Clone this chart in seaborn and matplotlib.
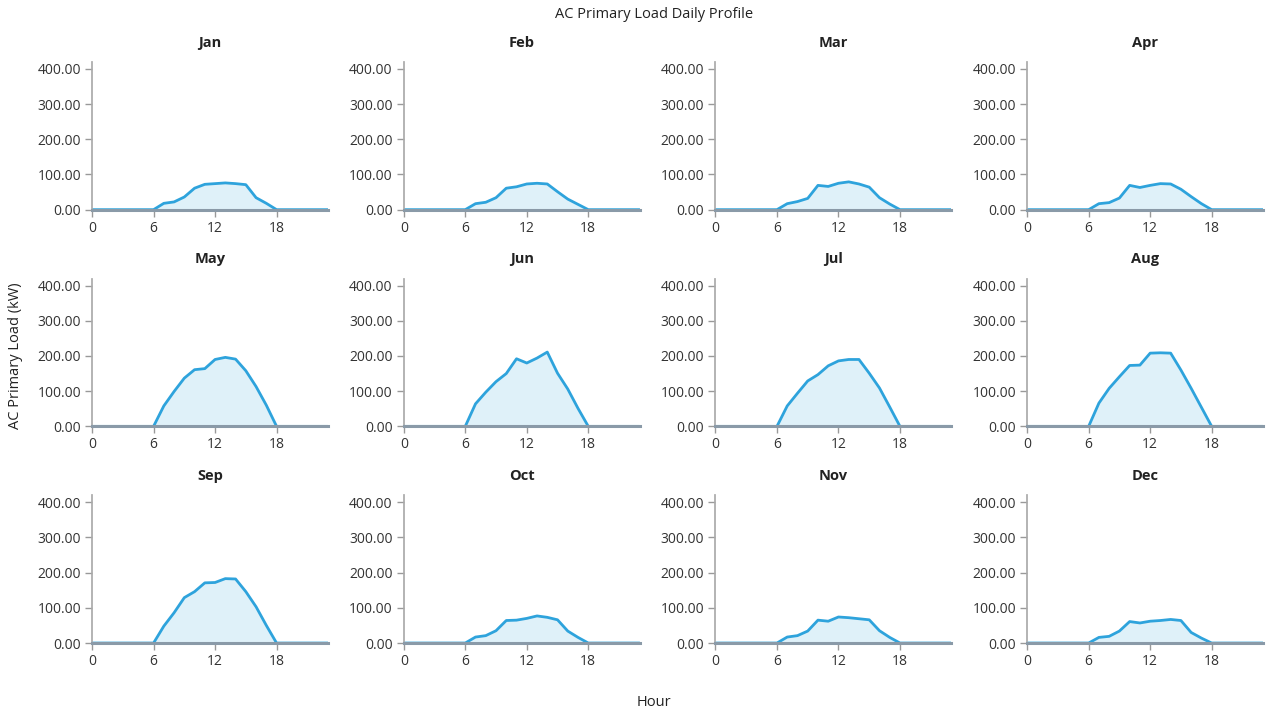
"""AC primary load daily profile: one small area chart per month."""
import matplotlib
matplotlib.use("Agg")
import matplotlib.pyplot as plt
import numpy as np
import pandas as pd
import seaborn as sns

months = ["Jan", "Feb", "Mar", "Apr", "May", "Jun",
          "Jul", "Aug", "Sep", "Oct", "Nov", "Dec"]
hours = list(range(24))

# load in kW for hours 0..23
jan = [0, 0, 0, 0, 0, 0, 0, 18, 22, 36, 61, 72, 74, 76, 74, 71, 34, 18, 0, 0, 0, 0, 0, 0]
feb = [0, 0, 0, 0, 0, 0, 0, 17, 21, 34, 61, 65, 73, 75, 73, 51, 30, 15, 0, 0, 0, 0, 0, 0]
mar = [0, 0, 0, 0, 0, 0, 0, 17, 23, 32, 69, 66, 75, 79, 73, 64, 34, 16, 0, 0, 0, 0, 0, 0]
apr = [0, 0, 0, 0, 0, 0, 0, 17, 20, 33, 69, 63, 69, 74, 73, 58, 37, 17, 0, 0, 0, 0, 0, 0]
may = [0, 0, 0, 0, 0, 0, 0, 58, 99, 137, 161, 164, 190, 196, 191, 158, 113, 60, 0, 0, 0, 0, 0, 0]
jun = [0, 0, 0, 0, 0, 0, 0, 64, 97, 127, 150, 192, 180, 194, 211, 151, 106, 51, 0, 0, 0, 0, 0, 0]
jul = [0, 0, 0, 0, 0, 0, 0, 58, 94, 129, 147, 172, 186, 190, 190, 151, 109, 55, 0, 0, 0, 0, 0, 0]
aug = [0, 0, 0, 0, 0, 0, 0, 66, 108, 141, 173, 174, 208, 209, 208, 160, 108, 54, 0, 0, 0, 0, 0, 0]
sep = [0, 0, 0, 0, 0, 0, 0, 48, 86, 129, 146, 171, 172, 183, 182, 146, 103, 50, 0, 0, 0, 0, 0, 0]
oct_ = [0, 0, 0, 0, 0, 0, 0, 17, 21, 35, 64, 65, 70, 77, 73, 66, 34, 16, 0, 0, 0, 0, 0, 0]
nov = [0, 0, 0, 0, 0, 0, 0, 17, 21, 34, 65, 62, 74, 72, 69, 66, 35, 16, 0, 0, 0, 0, 0, 0]
dec = [0, 0, 0, 0, 0, 0, 0, 16, 19, 34, 61, 57, 62, 64, 67, 64, 30, 14, 0, 0, 0, 0, 0, 0]

series = [jan, feb, mar, apr, may, jun, jul, aug, sep, oct_, nov, dec]
xticks = [0, 6, 12, 18]
yticks = [0, 100, 200, 300, 400]

LINE = "#2ea3dc"
FILL = "#dff1f9"
TEXT = "#333333"

df = pd.DataFrame(
    [(m, h, v) for m, vals in zip(months, series) for h, v in zip(hours, vals)],
    columns=["month", "hour", "load"],
)

sns.set_theme(style="white")
plt.rcParams["font.family"] = ["Open Sans", "DejaVu Sans"]

fig, axes = plt.subplots(3, 4, figsize=(12.68, 7.11), dpi=100)
fig.subplots_adjust(left=0.0726, right=0.996, top=0.913, bottom=0.0956,
                    wspace=0.322, hspace=0.466)

for ax, m in zip(axes.flat, months):
    d = df[df["month"] == m]
    ax.fill_between(d["hour"], d["load"], color=FILL, lw=0)
    sns.lineplot(data=d, x="hour", y="load", ax=ax, color=LINE, lw=2)
    ax.set_xlim(0, 23)
    ax.set_ylim(0, 420)
    ax.set_xticks(xticks)
    ax.set_yticks(yticks)
    ax.set_yticklabels([f"{t:.2f}" for t in yticks])
    ax.set_xlabel("")
    ax.set_ylabel("")
    ax.set_title(m, fontsize=10.5, fontweight="bold", color="#222222", pad=11)
    ax.tick_params(axis="both", length=5, width=1, color="#999999",
                   labelsize=10, labelcolor=TEXT, pad=3, left=True, bottom=True)
    for s in ("top", "right"):
        ax.spines[s].set_visible(False)
    ax.spines["left"].set_color("#aaaaaa")
    # baseline drawn over the flat part of the line, as in the reference
    ax.spines["bottom"].set_color("#8a9aa8")
    ax.spines["bottom"].set_linewidth(2.2)
    ax.spines["bottom"].set_zorder(5)

fig.text(0.516, 0.979, "AC Primary Load Daily Profile", ha="center", va="center",
         fontsize=10.5, color="#222222")
fig.text(0.516, 0.012, "Hour", ha="center", va="center", fontsize=10.5, color="#222222")
fig.text(0.012, 0.5, "AC Primary Load (kW)", rotation=90, ha="center", va="center",
         fontsize=10.5, color="#222222")

fig.savefig("out.png", dpi=100)
